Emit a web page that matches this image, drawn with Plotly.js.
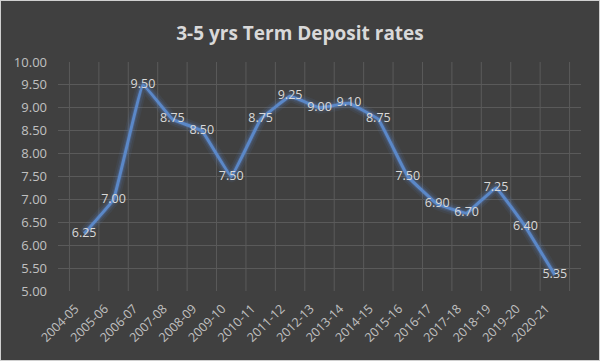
<!DOCTYPE html>
<html><head><meta charset="utf-8">
<script src="https://cdn.plot.ly/plotly-3.0.1.min.js"></script>
<style>html,body{margin:0;padding:0;background:#404040;}#c{width:600px;height:361px;box-sizing:border-box;border:1px solid #d0d0d0;}</style>
</head><body><div id="c"></div>
<script>
const years = ["2004-05","2005-06","2006-07","2007-08","2008-09","2009-10","2010-11","2011-12","2012-13","2013-14","2014-15","2015-16","2016-17","2017-18","2018-19","2019-20","2020-21"];
const rates = [6.25,7.00,9.50,8.75,8.50,7.50,8.75,9.25,9.00,9.10,8.75,7.50,6.90,6.70,7.25,6.40,5.35];
const yTicks = [5,5.5,6,6.5,7,7.5,8,8.5,9,9.5,10];

const glow = [12,8,5].map((w,i)=>({
  x: years, y: rates, type:'scatter', mode:'lines', hoverinfo:'skip', showlegend:false,
  line:{color:['rgba(90,140,220,0.08)','rgba(90,140,220,0.13)','rgba(90,140,220,0.22)'][i], width:w, shape:'spline', smoothing:0.2}
}));
const main = {
  x: years, y: rates, type:'scatter', mode:'lines+text', showlegend:false,
  line:{color:'#5b88c8', width:3, shape:'spline', smoothing:0.2},
  text: rates.map(v=>v.toFixed(2)), textposition:'middle center',
  textfont:{family:'Open Sans, sans-serif', size:12.5, color:'#d9d9d9'}
};
const layout = {
  width:598, height:359,
  paper_bgcolor:'#404040', plot_bgcolor:'#404040',
  margin:{l:57, r:18, t:61, b:69},
  title:{text:'<b>3-5 yrs Term Deposit rates</b>', x:0.5, xanchor:'center', y:0.91, yanchor:'middle',
    font:{family:'Open Sans, sans-serif', size:19, color:'#d9d9d9'}},
  xaxis:{type:'category', showgrid:false, tickangle:-45, ticks:'', zeroline:false, automargin:false,
    ticklabelstandoff:7, ticklabelshift:-9,
    tickfont:{family:'Open Sans, sans-serif', size:12.5, color:'#c0c0c0'}, showline:false},
  yaxis:{range:[5,10], tickvals:yTicks, ticktext:yTicks.map(v=>v.toFixed(2)), showgrid:true,
    gridcolor:'#5a5a5a', gridwidth:1, zeroline:false, ticks:'', automargin:false, ticklabelstandoff:10,
    tickfont:{family:'Open Sans, sans-serif', size:13, color:'#c0c0c0'}},
  shapes: years.map((_,i)=>({type:'line', xref:'x', yref:'paper', x0:i-0.5, x1:i-0.5, y0:0, y1:1,
    line:{color:'#5a5a5a', width:1}, layer:'below'})).concat([{type:'line', xref:'x', yref:'paper', x0:years.length-0.5, x1:years.length-0.5, y0:0, y1:1, line:{color:'#5a5a5a', width:1}, layer:'below'}])
};
Plotly.newPlot('c', glow.concat([main]), layout, {displayModeBar:false, staticPlot:true});
</script></body></html>
